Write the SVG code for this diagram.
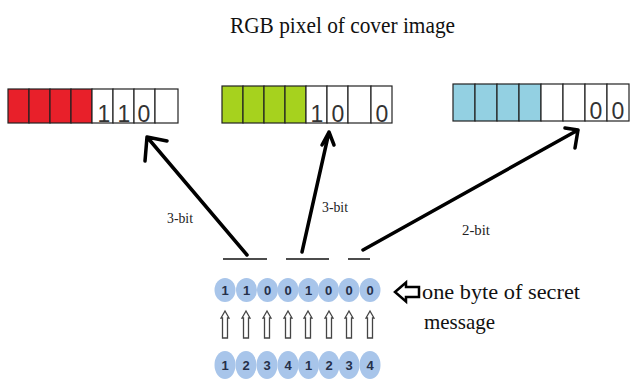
<svg xmlns="http://www.w3.org/2000/svg" width="631" height="381" viewBox="0 0 631 381">
<defs>
<style>
.cell{stroke:#222;stroke-width:1.2}
.w{fill:#fff}
.r{fill:#e8202a}
.g{fill:#a6d21e}
.b{fill:#93d0e2}
.bd{font-family:"Liberation Sans",Arial,sans-serif;font-size:23px;fill:#333;text-anchor:middle}
.serif{font-family:"Liberation Serif","DejaVu Serif",serif;fill:#111}
.lbl{font-family:"Liberation Serif","DejaVu Serif",serif;font-size:14px;fill:#222}
.arr{stroke:#000;stroke-width:3.5;fill:none;stroke-linecap:round;stroke-linejoin:round}
.ul{stroke:#111;stroke-width:1.5}
.bub{fill:#a8c5ea}
.bt{font-family:"Liberation Sans",Arial,sans-serif;font-size:13px;font-weight:bold;fill:#25304a;text-anchor:middle}
.up{fill:#fff;stroke:#444;stroke-width:1.3}
</style>
</defs>
<rect width="631" height="381" fill="#fff"/>
<text class="serif" x="230" y="33" font-size="24" textLength="225" lengthAdjust="spacingAndGlyphs">RGB pixel of cover image</text>

<g id="red-pixel">
<rect class="cell r" x="8" y="89" width="21" height="34"/>
<rect class="cell r" x="29" y="89" width="21" height="34"/>
<rect class="cell r" x="50" y="89" width="21" height="34"/>
<rect class="cell r" x="71" y="89" width="21" height="34"/>
<rect class="cell w" x="92" y="89" width="21" height="34"/>
<rect class="cell w" x="113" y="89" width="21" height="34"/>
<rect class="cell w" x="134" y="89" width="21" height="34"/>
<rect class="cell w" x="155" y="89" width="23" height="34"/>
<text class="bd" x="104" y="122">1</text>
<text class="bd" x="124" y="122">1</text>
<text class="bd" x="144" y="122">0</text>
</g>

<g id="green-pixel">
<rect class="cell g" x="222" y="86" width="21" height="37"/>
<rect class="cell g" x="243" y="86" width="21" height="37"/>
<rect class="cell g" x="264" y="86" width="21" height="37"/>
<rect class="cell g" x="285" y="86" width="21" height="37"/>
<rect class="cell w" x="306" y="86" width="21" height="37"/>
<rect class="cell w" x="327" y="86" width="21" height="37"/>
<rect class="cell w" x="348" y="86" width="23" height="37"/>
<rect class="cell w" x="371" y="86" width="21" height="37"/>
<text class="bd" x="317" y="122">1</text>
<text class="bd" x="338" y="122">0</text>
<text class="bd" x="382" y="122">0</text>
</g>

<g id="blue-pixel">
<rect class="cell b" x="453" y="84" width="22" height="37"/>
<rect class="cell b" x="475" y="84" width="22" height="37"/>
<rect class="cell b" x="497" y="84" width="22" height="37"/>
<rect class="cell b" x="519" y="84" width="22" height="37"/>
<rect class="cell w" x="541" y="84" width="22" height="37"/>
<rect class="cell w" x="563" y="84" width="22" height="37"/>
<rect class="cell w" x="585" y="84" width="22" height="37"/>
<rect class="cell w" x="607" y="84" width="22" height="37"/>
<text class="bd" x="596" y="119" font-size="21">0</text>
<text class="bd" x="618" y="119" font-size="21">0</text>
</g>

<g id="connectors">
<line class="ul" x1="223" y1="259" x2="267" y2="259"/>
<line class="ul" x1="286" y1="259" x2="329" y2="259"/>
<line class="ul" x1="348" y1="259" x2="370" y2="259"/>
<path class="arr" d="M247 255 L147 137 M147 137 L167 141 M147 137 L145 161"/>
<path class="arr" d="M302 252 L329 132 M329 132 L322 145 M329 132 L334 145"/>
<path class="arr" d="M363 250 L578 130 M578 130 L565 128 M578 130 L575 148"/>
<text class="lbl" x="167" y="223" textLength="26" lengthAdjust="spacingAndGlyphs">3-bit</text>
<text class="lbl" x="322" y="212" textLength="26" lengthAdjust="spacingAndGlyphs">3-bit</text>
<text class="lbl" x="462" y="235" textLength="28" lengthAdjust="spacingAndGlyphs">2-bit</text>
</g>

<g id="message-bits">
<ellipse class="bub" cx="225" cy="290" rx="10.5" ry="12"/>
<ellipse class="bub" cx="246.5" cy="290" rx="10.5" ry="12"/>
<ellipse class="bub" cx="267.5" cy="290" rx="10.5" ry="12"/>
<ellipse class="bub" cx="288" cy="290" rx="10.5" ry="12"/>
<ellipse class="bub" cx="308.5" cy="290" rx="10.5" ry="12"/>
<ellipse class="bub" cx="328.5" cy="290" rx="10.5" ry="12"/>
<ellipse class="bub" cx="349" cy="290" rx="10.5" ry="12"/>
<ellipse class="bub" cx="370" cy="290" rx="10.5" ry="12"/>
<text class="bt" x="225" y="295">1</text>
<text class="bt" x="246.5" y="295">1</text>
<text class="bt" x="267.5" y="295">0</text>
<text class="bt" x="288" y="295">0</text>
<text class="bt" x="308.5" y="295">1</text>
<text class="bt" x="328.5" y="295">0</text>
<text class="bt" x="349" y="295">0</text>
<text class="bt" x="370" y="295">0</text>
</g>

<g id="up-arrows">
<path class="up" d="M222.5 338 V318 H221 L225 311 L229 318 H227.5 V338 Z"/>
<path class="up" d="M243.5 338 V318 H242 L246 311 L250 318 H248.5 V338 Z"/>
<path class="up" d="M264.5 338 V318 H263 L267 311 L271 318 H269.5 V338 Z"/>
<path class="up" d="M285.5 338 V318 H284 L288 311 L292 318 H290.5 V338 Z"/>
<path class="up" d="M305.5 338 V318 H304 L308 311 L312 318 H310.5 V338 Z"/>
<path class="up" d="M326.5 338 V318 H325 L329 311 L333 318 H331.5 V338 Z"/>
<path class="up" d="M346.5 338 V318 H345 L349 311 L353 318 H351.5 V338 Z"/>
<path class="up" d="M367.5 338 V318 H366 L370 311 L374 318 H372.5 V338 Z"/>
</g>

<g id="bit-positions">
<ellipse class="bub" cx="225" cy="365" rx="10.5" ry="14"/>
<ellipse class="bub" cx="246" cy="365" rx="10.5" ry="14"/>
<ellipse class="bub" cx="267" cy="365" rx="10.5" ry="14"/>
<ellipse class="bub" cx="288" cy="365" rx="10.5" ry="14"/>
<ellipse class="bub" cx="308.5" cy="365" rx="10.5" ry="14"/>
<ellipse class="bub" cx="329" cy="365" rx="10.5" ry="14"/>
<ellipse class="bub" cx="349" cy="365" rx="10.5" ry="14"/>
<ellipse class="bub" cx="370" cy="365" rx="10.5" ry="14"/>
<text class="bt" x="225" y="370">1</text>
<text class="bt" x="246" y="370">2</text>
<text class="bt" x="267" y="370">3</text>
<text class="bt" x="288" y="370">4</text>
<text class="bt" x="308.5" y="370">1</text>
<text class="bt" x="329" y="370">2</text>
<text class="bt" x="349" y="370">3</text>
<text class="bt" x="370" y="370">4</text>
</g>

<g id="secret-label">
<path d="M395 292 L406 282.5 V287 H419 V297 H406 V301.5 Z" fill="#fff" stroke="#000" stroke-width="2.5" stroke-linejoin="miter"/>
<text class="serif" x="422" y="299" font-size="21" textLength="158" lengthAdjust="spacingAndGlyphs">one byte of secret</text>
<text class="serif" x="424" y="329" font-size="21" textLength="71" lengthAdjust="spacingAndGlyphs">message</text>
</g>
</svg>
